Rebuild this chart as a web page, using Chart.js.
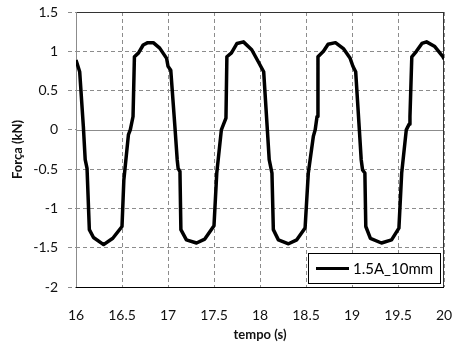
<!DOCTYPE html>
<html>
<head>
<meta charset="utf-8">
<script src="https://cdn.jsdelivr.net/npm/chart.js@4/dist/chart.umd.min.js"></script>
<style>
  html, body { margin: 0; padding: 0; background: #fff; }
  #wrap { width: 453px; height: 344px; }
</style>
</head>
<body>
<div id="wrap"><canvas id="grafico-forca"></canvas></div>
<script>
// tempo (s) e força (kN)
const tempo = [
  16.00, 16.04, 16.08, 16.10, 16.12, 16.145, 16.19, 16.30, 16.40, 16.50,
  16.52, 16.57, 16.59, 16.62, 16.635, 16.68, 16.73, 16.78, 16.84, 16.91,
  16.985, 17.00, 17.03, 17.075, 17.10, 17.11, 17.13, 17.14, 17.20, 17.31,
  17.40, 17.50, 17.53, 17.58, 17.60, 17.63, 17.64, 17.69, 17.75, 17.82,
  17.91, 17.98, 18.04, 18.08, 18.10, 18.13, 18.145, 18.20, 18.31, 18.40,
  18.49, 18.525, 18.58, 18.60, 18.62, 18.63, 18.69, 18.74, 18.82, 18.91,
  18.98, 19.01, 19.04, 19.08, 19.10, 19.115, 19.14, 19.15, 19.20, 19.32,
  19.43, 19.51, 19.54, 19.59, 19.62, 19.63, 19.65, 19.70, 19.76, 19.81,
  19.90, 19.99, 20.00
];
const forca = [
  0.89, 0.74, 0.04, -0.38, -0.49, -1.27, -1.37, -1.46, -1.38, -1.23,
  -0.64, -0.06, 0.00, 0.17, 0.93, 0.98, 1.08, 1.11, 1.11, 1.04,
  0.91, 0.81, 0.76, 0.04, -0.38, -0.49, -0.53, -1.27, -1.40, -1.44,
  -1.39, -1.22, -0.55, 0.00, 0.06, 0.15, 0.93, 0.98, 1.10, 1.12,
  1.02, 0.87, 0.74, 0.00, -0.38, -0.55, -1.27, -1.40, -1.45, -1.40,
  -1.25, -0.55, -0.08, 0.00, 0.17, 0.93, 1.00, 1.09, 1.11, 1.03,
  0.91, 0.81, 0.74, 0.00, -0.38, -0.51, -0.55, -1.23, -1.38, -1.44,
  -1.40, -1.25, -0.55, 0.00, 0.07, 0.17, 0.93, 1.00, 1.10, 1.12,
  1.06, 0.93, 0.90
];
const serie = '1.5A_10mm';
const eixoX = { min: 16, max: 20, passo: 0.5, titulo: 'tempo (s)' };
const eixoY = { min: -2, max: 1.5, passo: 0.5, titulo: 'Força (kN)' };

const fonte = 'Lato, "Liberation Sans", sans-serif';
const tracejado = [4, 3];

// moldura do gráfico + linha do zero
const moldura = {
  id: 'moldura',
  beforeDatasetsDraw(chart) {
    const a = chart.chartArea, c = chart.ctx;
    const y0 = chart.scales.y.getPixelForValue(0);
    c.save();
    c.lineWidth = 1;
    c.fillStyle = '#fff';
    c.fillRect(a.left + 1, Math.round(y0) - 1, a.right - a.left - 2, 3);
    c.strokeStyle = '#8c8c8c';
    c.beginPath();
    c.moveTo(a.left, Math.round(y0) + 0.5);
    c.lineTo(a.right, Math.round(y0) + 0.5);
    c.stroke();
    c.strokeStyle = '#333';
    c.strokeRect(a.left + 0.5, a.top + 0.5, a.right - a.left - 1, a.bottom - a.top);
    c.strokeStyle = '#8c8c8c';
    c.beginPath();
    c.moveTo(a.left + 0.5, a.top);
    c.lineTo(a.left + 0.5, a.bottom);
    c.stroke();
    c.strokeStyle = '#000';
    c.beginPath();
    c.moveTo(a.left, a.bottom + 0.5);
    c.lineTo(a.right, a.bottom + 0.5);
    c.stroke();
    c.restore();
  }
};

// legenda dentro da área (canto inferior direito)
const legendaCaixa = {
  id: 'legendaCaixa',
  afterDatasetsDraw(chart) {
    const a = chart.chartArea, c = chart.ctx;
    const ds = chart.data.datasets[0];
    const w = 132, h = 30;
    const x = a.right - 4 - w, y = a.bottom - 4 - h;
    c.save();
    c.fillStyle = '#fff';
    c.fillRect(x, y, w, h);
    c.strokeStyle = '#000';
    c.lineWidth = 1;
    c.strokeRect(x + 0.5, y + 0.5, w, h);
    c.strokeStyle = ds.borderColor;
    c.lineWidth = 3;
    c.beginPath();
    c.moveTo(x + 8, y + h / 2 + 0.5);
    c.lineTo(x + 41, y + h / 2 + 0.5);
    c.stroke();
    c.fillStyle = '#000';
    c.font = '15px ' + fonte;
    c.textBaseline = 'middle';
    c.fillText(ds.label, x + 45, y + h / 2 + 1);
    c.restore();
  }
};

new Chart(document.getElementById('grafico-forca'), {
  type: 'line',
  data: {
    datasets: [{
      label: serie,
      data: tempo.map((t, i) => ({ x: t, y: forca[i] })),
      borderColor: '#000',
      borderWidth: 3.5,
      pointRadius: 0,
      tension: 0,
      fill: false,
      borderJoinStyle: 'round'
    }]
  },
  options: {
    responsive: true,
    maintainAspectRatio: false,
    animation: false,
    layout: { padding: { left: 0, right: 9, top: 12, bottom: 0 } },
    plugins: {
      legend: { display: false },
      tooltip: { enabled: false }
    },
    scales: {
      x: {
        type: 'linear',
        min: eixoX.min,
        max: eixoX.max,
        border: { display: false, dash: tracejado },
        grid: { color: '#8c8c8c', drawTicks: false, borderDash: tracejado },
        ticks: { stepSize: eixoX.passo, color: '#111', padding: 20, font: { family: fonte, size: 14 }, callback: v => String(v) },
        title: { display: true, text: eixoX.titulo, color: '#111', padding: { top: 0, bottom: 1 }, font: { family: fonte, size: 13, weight: 'bold' } },
        afterFit(s) { s.height = 57; s.paddingLeft = 0; s.paddingRight = 0; }
      },
      y: {
        min: eixoY.min,
        max: eixoY.max,
        border: { display: false, dash: tracejado },
        grid: { color: '#8c8c8c', tickLength: 8, borderDash: tracejado, tickBorderDash: tracejado },
        ticks: { stepSize: eixoY.passo, color: '#111', padding: 10, font: { family: fonte, size: 14 }, callback: v => String(v) },
        title: { display: true, text: eixoY.titulo, color: '#111', padding: { top: 10, bottom: 0 }, font: { family: fonte, size: 13, weight: 'bold' } },
        afterFit(s) { s.width = 76; s.paddingTop = 0; s.paddingBottom = 0; }
      }
    }
  },
  plugins: [moldura, legendaCaixa]
});
</script>
</body>
</html>
